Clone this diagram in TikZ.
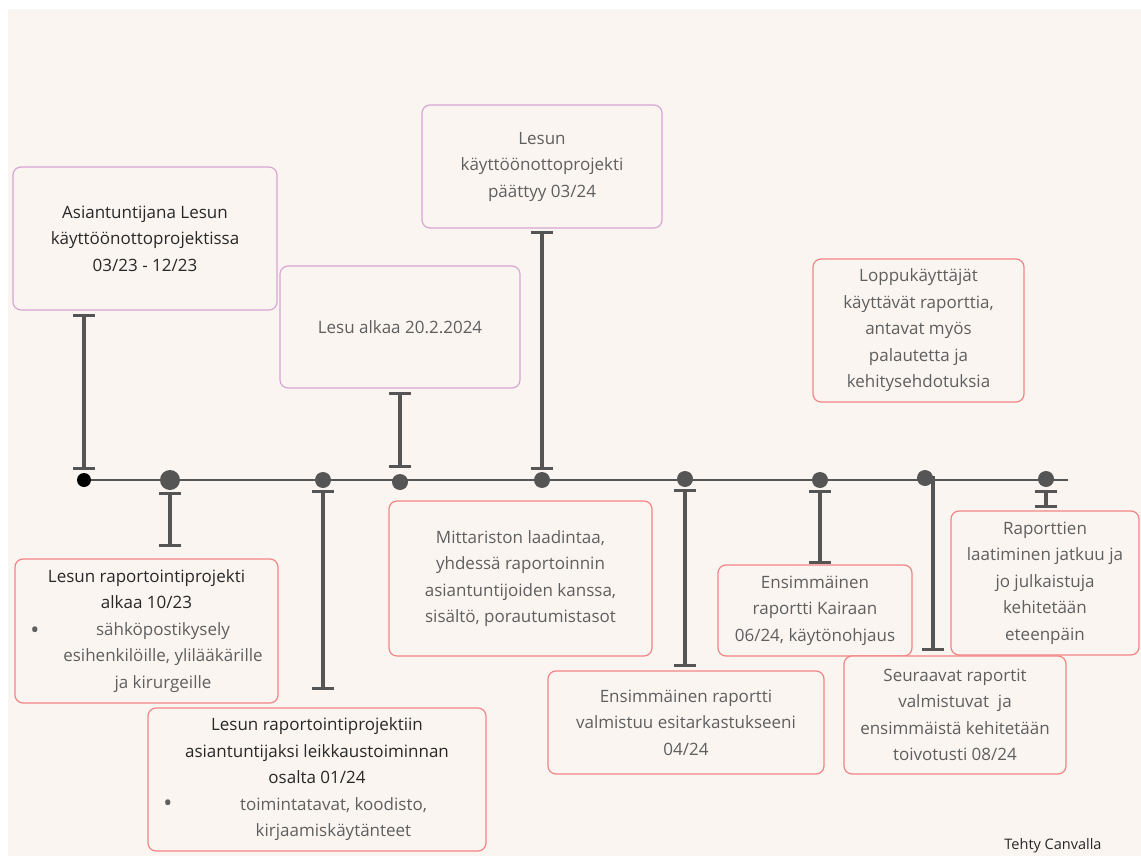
\documentclass[tikz,border=0pt]{standalone}
\usepackage{fontspec}
\setmainfont{Open Sans}
\usepackage{tikz}
\usetikzlibrary{arrows.meta,positioning,calc}
\definecolor{canvabg}{RGB}{250,245,241}
\definecolor{linegray}{RGB}{85,85,85}
\definecolor{lilacline}{RGB}{216,166,210}
\definecolor{coralline}{RGB}{243,132,132}
\definecolor{textdark}{RGB}{40,40,40}
\definecolor{textgray}{RGB}{95,95,95}
\pgfdeclarelayer{canvas}
\pgfdeclarelayer{wires}
\pgfsetlayers{canvas,wires,main}

\tikzset{
  evbox/.style={draw=coralline, line width=1.2pt, rounded corners=8pt, fill=canvabg,
    align=center, inner sep=2pt, text=textgray, font=\fontsize{17}{26.5}\selectfont},
  planbox/.style={evbox, draw=lilacline},
  tdot/.style={circle, fill=linegray, inner sep=0pt, minimum size=16pt},
  stem/.style={draw=linegray, line width=4pt,
    {Bar[width=22pt,line width=3pt]}-{Bar[width=22pt,line width=3pt]}},
  bulletmark/.style={text=textgray, inner sep=0pt, font=\fontsize{24}{26}\selectfont}
}

\begin{document}
\begin{tikzpicture}[x=1pt,y=-1pt]
\useasboundingbox (0,0) rectangle (1141,856);
\begin{pgfonlayer}{canvas}
\fill[canvabg] (8,9) rectangle (1141,856);
\end{pgfonlayer}

\node[planbox, text=textdark, minimum width=264pt, minimum height=143pt] (a) at (145,238.5) {Asiantuntijana Lesun\\käyttöönottoprojektissa\\03/23 - 12/23};
\node[planbox, minimum width=240pt, minimum height=122pt] (b) at (400,327) {Lesu alkaa 20.2.2024};
\node[planbox, minimum width=240pt, minimum height=123pt] (c) at (542,166.5) {Lesun\\käyttöönottoprojekti\\päättyy 03/24};
\node[evbox, minimum width=211pt, minimum height=143pt] (d) at (918.5,330.5) {Loppukäyttäjät\\käyttävät raporttia,\\antavat myös\\palautetta ja\\kehitysehdotuksia};
\node[evbox, text=textdark, minimum width=263pt, minimum height=144pt] (e) at (146.5,631) {Lesun raportointiprojekti\\alkaa 10/23\\\textcolor{textgray}{\hspace*{33pt}sähköpostikysely}\\\textcolor{textgray}{\hspace*{33pt}esihenkilöille, ylilääkärille}\\\textcolor{textgray}{\hspace*{33pt}ja kirurgeille}};
\node[evbox, text=textdark, minimum width=338pt, minimum height=143pt] (f) at (317,779.5) {Lesun raportointiprojektiin\\asiantuntijaksi leikkaustoiminnan\\osalta 01/24\\\textcolor{textgray}{\hspace*{33pt}toimintatavat, koodisto,}\\\textcolor{textgray}{\hspace*{33pt}kirjaamiskäytänteet}};
\node[evbox, minimum width=263pt, minimum height=155pt] (g) at (520.5,578.5) {Mittariston laadintaa,\\yhdessä raportoinnin\\asiantuntijoiden kanssa,\\sisältö, porautumistasot};
\node[evbox, minimum width=276pt, minimum height=103pt] (h) at (686,722.5) {Ensimmäinen raportti\\valmistuu esitarkastukseeni\\04/24};
\node[evbox, minimum width=194pt, minimum height=91pt] (i) at (815,610.5) {Ensimmäinen\\raportti Kairaan\\06/24, käytönohjaus};
\node[evbox, minimum width=188pt, minimum height=144pt] (j) at (1045,583) {Raporttien\\laatiminen jatkuu ja\\jo julkaistuja\\kehitetään\\eteenpäin};
\node[evbox, minimum width=222pt, minimum height=118pt] (k) at (955,715) {Seuraavat raportit\\valmistuvat\ \ ja\\ensimmäistä kehitetään\\toivotusti 08/24};

\node[bulletmark] (ebullet) at (35,633) {\textbullet};
\node[bulletmark] (fbullet) at (168,806) {\textbullet};

\node[tdot, fill=black, minimum size=14pt] (d1) at (84,480) {};
\node[tdot, minimum size=20pt] (d2) at (170,480) {};
\node[tdot] (d3) at (323,480) {};
\node[tdot] (d4) at (400,482) {};
\node[tdot] (d5) at (542,480) {};
\node[tdot] (d6) at (685,479) {};
\node[tdot] (d7) at (820,480) {};
\node[tdot] (d8) at (925,478) {};
\node[tdot] (d9) at (1046,479) {};
\coordinate (tend) at (1068,480);
\coordinate (kstem) at (933,651);

\begin{pgfonlayer}{wires}
\draw[linegray, line width=2pt] (d1.center) -- (tend);
\draw[stem] ([yshift=-3pt]a.south -| d1) -- ([yshift=3pt]d1.north);
\draw[stem] ([yshift=-2pt]d2.south) -- ([yshift=11pt]e.north -| d2);
\draw[stem] ([yshift=-2pt]d3.south) -- ([yshift=17pt]f.north -| d3);
\draw[stem] ([yshift=-3pt]b.south -| d4) -- ([yshift=6pt]d4.north);
\draw[stem] ([yshift=-2pt]c.south) -- ([yshift=2pt]d5.north);
\draw[stem] ([yshift=-2pt]d6.south) -- ([yshift=3pt]h.north -| d6);
\draw[stem] ([yshift=-2pt]d7.south) -- (i.north -| d7);
\draw[stem, -{Bar[width=22pt,line width=3pt]}] (d8.center) -| (kstem);
\draw[stem] ([yshift=-3pt]d9.south) -- ([yshift=2pt]j.north -| d9);
\end{pgfonlayer}

\node[font=\fontsize{14.5}{16}\selectfont, text=textdark] (credit) at (1053,846) {Tehty Canvalla};
\end{tikzpicture}
\end{document}
